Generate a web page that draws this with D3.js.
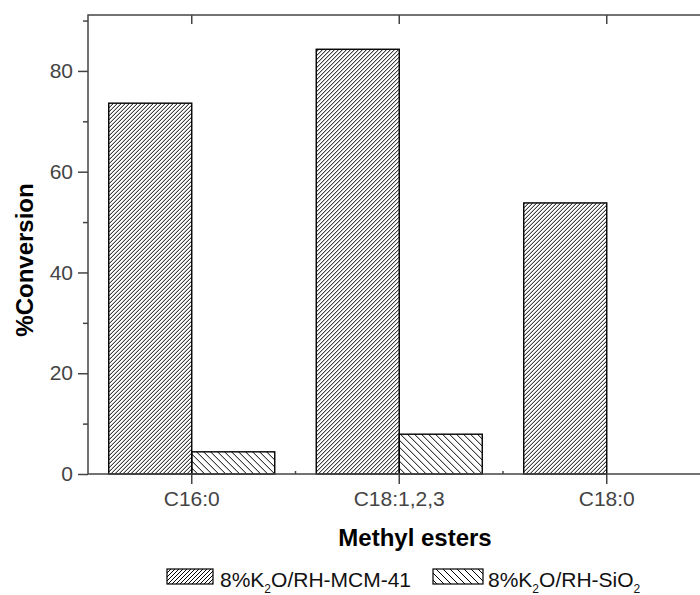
<!DOCTYPE html>
<html>
<head>
<meta charset="utf-8">
<script src="https://cdn.jsdelivr.net/npm/d3@7"></script>
<style>
  html, body { margin: 0; padding: 0; background: #fff; }
  svg { display: block; overflow: hidden; }
  text { font-family: "Liberation Sans", Arial, sans-serif; }
</style>
</head>
<body>
<svg id="chart" width="700" height="595"></svg>
<script>
// Methyl ester conversion for two catalysts
const categories = ["C16:0", "C18:1,2,3", "C18:0"];
const seriesNames = ["8%K2O/RH-MCM-41", "8%K2O/RH-SiO2"];
const mcmValues = [73.6, 84.3, 53.8];
const sio2Values = [4.4, 7.9, 0];
const yMajorTicks = [0, 20, 40, 60, 80];
const yMinorTicks = [10, 30, 50, 70, 90];

const seriesValues = [mcmValues, sio2Values];
const rows = categories.map((c, i) => ({
  cat: c,
  vals: seriesNames.map((s, k) => ({ key: s, k, v: seriesValues[k][i] }))
}));

const svg = d3.select("#chart");
const axisColor = "#444";
const plotLeft = 88, plotRight = 710.5, plotTop = 15, plotBottom = 474;

const x0 = d3.scaleBand().domain(categories).range([plotLeft, plotRight])
  .paddingInner(0.2).paddingOuter(0.1);
const x1 = d3.scaleBand().domain(seriesNames).range([0, x0.bandwidth()]);
const y = d3.scaleLinear().domain([0, 91.1]).range([plotBottom, plotTop]);

// Hatch fills
const defs = svg.append("defs");
defs.append("pattern").attr("id", "hatchFwd")
  .attr("patternUnits", "userSpaceOnUse").attr("width", 4).attr("height", 4)
  .append("path").attr("d", "M-1,1 L1,-1 M0,4 L4,0 M3,5 L5,3")
  .attr("stroke", "#000").attr("stroke-width", 1);
defs.append("pattern").attr("id", "hatchBack")
  .attr("patternUnits", "userSpaceOnUse").attr("width", 7).attr("height", 7)
  .append("path").attr("d", "M-2,5 L2,9 M0,0 L7,7 M5,-2 L9,2")
  .attr("stroke", "#000").attr("stroke-width", 1);
const fills = ["url(#hatchFwd)", "url(#hatchBack)"];

// Bars
const groups = svg.append("g").selectAll("g").data(rows).join("g")
  .attr("transform", d => `translate(${x0(d.cat)},0)`);
groups.selectAll("rect").data(d => d.vals.filter(e => e.v > 0)).join("rect")
  .attr("x", d => x1(d.key))
  .attr("y", d => y(d.v))
  .attr("width", x1.bandwidth())
  .attr("height", d => y(0) - y(d.v))
  .attr("fill", d => fills[d.k])
  .attr("stroke", "#000")
  .attr("stroke-width", 1.4);

// Frame
svg.append("rect").attr("x", plotLeft).attr("y", plotTop)
  .attr("width", plotRight - plotLeft).attr("height", plotBottom - plotTop)
  .attr("fill", "none").attr("stroke", axisColor).attr("stroke-width", 1.5);

// Y axis
const yAxis = d3.axisLeft(y).tickValues(yMajorTicks).tickSize(10).tickPadding(5).tickFormat(d3.format("d"));
const gy = svg.append("g").attr("transform", `translate(${plotLeft},0)`).call(yAxis);
gy.select(".domain").remove();
gy.selectAll("line").attr("stroke", axisColor).attr("stroke-width", 1.5);
gy.selectAll("text").attr("fill", axisColor).attr("font-size", 21)
  .attr("font-family", "Liberation Sans, Arial, sans-serif");
const gyMinor = svg.append("g").attr("transform", `translate(${plotLeft},0)`)
  .call(d3.axisLeft(y).tickValues(yMinorTicks).tickSize(5).tickFormat(""));
gyMinor.select(".domain").remove();
gyMinor.selectAll("line").attr("stroke", axisColor).attr("stroke-width", 1.5);

// X axis (bottom) with category ticks
const xCenter = d => x0(d) + x0.bandwidth() / 2;
const gx = svg.append("g").attr("transform", `translate(0,${plotBottom})`);
gx.selectAll("line.major").data(categories).join("line").attr("class", "major")
  .attr("x1", xCenter).attr("x2", xCenter).attr("y1", 0).attr("y2", 10)
  .attr("stroke", axisColor).attr("stroke-width", 1.5);
gx.selectAll("text").data(categories).join("text")
  .attr("x", xCenter).attr("y", 32).attr("text-anchor", "middle")
  .attr("font-size", 21).attr("fill", axisColor).text(d => d);
// minor ticks between categories
const bounds = categories.slice(1).map(c => x0(c) - x0.step() * x0.paddingInner() / 2);
gx.selectAll("line.minor").data(bounds).join("line").attr("class", "minor")
  .attr("x1", d => d).attr("x2", d => d).attr("y1", -3).attr("y2", 0)
  .attr("stroke", axisColor).attr("stroke-width", 1.5);

// Top axis ticks pointing inward
svg.append("g").selectAll("line").data(categories).join("line")
  .attr("x1", xCenter).attr("x2", xCenter).attr("y1", plotTop).attr("y2", plotTop + 9)
  .attr("stroke", axisColor).attr("stroke-width", 1.5);

// Axis titles
svg.append("text").attr("transform", "translate(33,260) rotate(-90)")
  .attr("text-anchor", "middle").attr("font-size", 24).attr("font-weight", "bold")
  .attr("fill", "#000").text("%Conversion");
svg.append("text").attr("x", 415).attr("y", 546).attr("text-anchor", "middle")
  .attr("font-size", 24).attr("font-weight", "bold").attr("fill", "#000").text("Methyl esters");

// Legend
const legendItems = [
  { x: 167, w: 46, tx: 220, fill: fills[0], pre: "8%K", sub: "2", post: "O/RH-MCM-41" },
  { x: 433, w: 50, tx: 488, fill: fills[1], pre: "8%K", sub: "2", post: "O/RH-SiO", sub2: "2" }
];
const lg = svg.append("g");
legendItems.forEach(it => {
  lg.append("rect").attr("x", it.x).attr("y", 569).attr("width", it.w).attr("height", 15)
    .attr("fill", it.fill).attr("stroke", "#000").attr("stroke-width", 1.2);
  const t = lg.append("text").attr("x", it.tx).attr("y", 587).attr("font-size", 21).attr("fill", "#111");
  t.append("tspan").text(it.pre);
  t.append("tspan").attr("font-size", 12).attr("dy", 6).text(it.sub);
  t.append("tspan").attr("dy", -6).text(it.post);
  if (it.sub2) t.append("tspan").attr("font-size", 12).attr("dy", 6).text(it.sub2);
});
</script>
</body>
</html>
